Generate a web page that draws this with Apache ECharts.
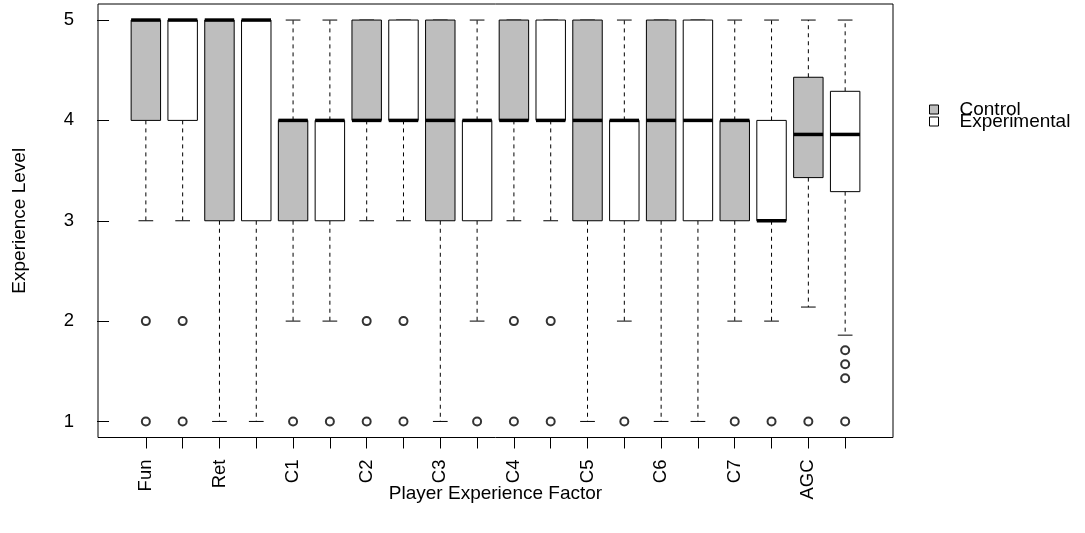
<!DOCTYPE html>
<html>
<head>
<meta charset="utf-8">
<script src="https://cdn.jsdelivr.net/npm/echarts@6/dist/echarts.min.js"></script>
<style>html,body{margin:0;padding:0;background:#fff}#c{width:1085px;height:533px}</style>
</head>
<body>
<div id="c"></div>
<script>
// ---- data ----
var factors = ['Fun', 'Ret', 'C1', 'C2', 'C3', 'C4', 'C5', 'C6', 'C7', 'AGC'];
// [lower whisker, Q1, median, Q3, upper whisker]
var controlStats = [
  [3, 4, 5, 5, 5],
  [1, 3, 5, 5, 5],
  [2, 3, 4, 4, 5],
  [3, 4, 4, 5, 5],
  [1, 3, 4, 5, 5],
  [3, 4, 4, 5, 5],
  [1, 3, 4, 5, 5],
  [1, 3, 4, 5, 5],
  [2, 3, 4, 4, 5],
  [2.14, 3.43, 3.86, 4.43, 5]
];
var experimentalStats = [
  [3, 4, 5, 5, 5],
  [1, 3, 5, 5, 5],
  [2, 3, 4, 4, 5],
  [3, 4, 4, 5, 5],
  [2, 3, 4, 4, 5],
  [3, 4, 4, 5, 5],
  [2, 3, 4, 4, 5],
  [1, 3, 4, 5, 5],
  [2, 3, 3, 4, 5],
  [1.86, 3.29, 3.86, 4.29, 5]
];
var controlOutliers = [[2, 1], [], [1], [2, 1], [], [2, 1], [], [], [1], [1]];
var experimentalOutliers = [[2, 1], [], [1], [2, 1], [1], [2, 1], [1], [], [1], [1.71, 1.57, 1.43, 1]];
var yTicks = [1, 2, 3, 4, 5];
var groupNames = ['Control', 'Experimental'];
var groupColors = ['#bebebe', '#ffffff'];

// ---- build ----
function boxData(stats, offset) {
  return stats.map(function (s, i) { return [2 * i + offset].concat(s); });
}
function outlierData(outs, offset) {
  var r = [];
  outs.forEach(function (o, i) { o.forEach(function (v) { r.push([2 * i + offset, v]); }); });
  return r;
}
var xTickValues = [];
for (var k = 1; k <= factors.length * 2; k++) xTickValues.push(k);
var xLabelValues = factors.map(function (f, i) { return 2 * i + 1; });

var FONT = '"Liberation Sans", Arial, Helvetica, sans-serif';

function renderBox(fill) {
  return function (params, api) {
    var x = api.value(0);
    var lo = api.value(1), q1 = api.value(2), med = api.value(3), q3 = api.value(4), hi = api.value(5);
    var half = 0.4, st = 0.2;
    var pLoL = api.coord([x - st, lo]), pLoR = api.coord([x + st, lo]);
    var pHiL = api.coord([x - st, hi]), pHiR = api.coord([x + st, hi]);
    var c = api.coord([x, 0])[0];
    var yLo = api.coord([x, lo])[1], yQ1 = api.coord([x, q1])[1], yMed = api.coord([x, med])[1];
    var yQ3 = api.coord([x, q3])[1], yHi = api.coord([x, hi])[1];
    var xl = api.coord([x - half, q1])[0], xr = api.coord([x + half, q1])[0];
    var children = [];
    if (yHi < yQ3) children.push({type: 'line', shape: {x1: c, y1: yQ3, x2: c, y2: yHi}, style: {stroke: '#000', lineWidth: 1, lineDash: [4, 4]}});
    if (yLo > yQ1) children.push({type: 'line', shape: {x1: c, y1: yQ1, x2: c, y2: yLo}, style: {stroke: '#000', lineWidth: 1, lineDash: [4, 4]}});
    children.push({type: 'line', shape: {x1: pHiL[0], y1: pHiL[1], x2: pHiR[0], y2: pHiR[1]}, style: {stroke: '#000', lineWidth: 1}});
    children.push({type: 'line', shape: {x1: pLoL[0], y1: pLoL[1], x2: pLoR[0], y2: pLoR[1]}, style: {stroke: '#000', lineWidth: 1}});
    children.push({type: 'rect', shape: {x: xl, y: yQ3, width: xr - xl, height: yQ1 - yQ3}, style: {fill: fill, stroke: '#000', lineWidth: 1}});
    children.push({type: 'line', shape: {x1: xl, y1: yMed, x2: xr, y2: yMed}, style: {stroke: '#000', lineWidth: 3.5, lineCap: 'butt'}});
    return {type: 'group', children: children};
  };
}

var chart = echarts.init(document.getElementById('c'), null, {renderer: 'canvas'});
chart.setOption({
  animation: false,
  backgroundColor: '#fff',
  textStyle: {fontFamily: FONT},
  grid: {left: 98, right: 192, top: 4, bottom: 95.5, show: true, borderColor: '#000', borderWidth: 1, backgroundColor: 'transparent', containLabel: false},
  legend: {
    orient: 'vertical', left: 929, top: 100, padding: 0,
    itemWidth: 9, itemHeight: 9, itemGap: -7,
    textStyle: {fontSize: 19, color: '#000', fontFamily: FONT, padding: [0, 0, 0, 16]},
    data: [
      {name: groupNames[0], icon: 'rect', itemStyle: {color: groupColors[0], borderColor: '#000', borderWidth: 1}},
      {name: groupNames[1], icon: 'rect', itemStyle: {color: groupColors[1], borderColor: '#000', borderWidth: 1}}
    ]
  },
  xAxis: {
    type: 'value', min: -0.3, max: 21.3,
    name: 'Player Experience Factor', nameLocation: 'middle', nameGap: 47, nameMoveOverlap: false,
    nameTextStyle: {fontSize: 19, color: '#000', fontFamily: FONT},
    axisLine: {show: false},
    splitLine: {show: false},
    axisTick: {show: true, length: 11, customValues: xTickValues, lineStyle: {color: '#000', width: 1}},
    axisLabel: {show: true, rotate: 90, margin: 22, fontSize: 18.5, color: '#000', fontFamily: FONT,
      customValues: xLabelValues,
      formatter: function (v) { return factors[Math.round((v - 1) / 2)] || ''; }}
  },
  yAxis: {
    type: 'value', min: 0.84, max: 5.16,
    name: 'Experience Level', nameLocation: 'middle', nameGap: 69, nameRotate: 90, nameMoveOverlap: false,
    nameTextStyle: {fontSize: 19, color: '#000', fontFamily: FONT},
    axisLine: {show: false},
    splitLine: {show: false},
    axisTick: {show: true, length: 12, customValues: yTicks, lineStyle: {color: '#000', width: 1}},
    axisLabel: {show: true, margin: 24, fontSize: 18.5, color: '#000', fontFamily: FONT, customValues: yTicks,
      formatter: function (v) { return String(v); }}
  },
  series: [
    {name: groupNames[0], type: 'custom', renderItem: renderBox(groupColors[0]), data: boxData(controlStats, 1),
     encode: {x: 0, y: [1, 2, 3, 4, 5]}, itemStyle: {color: groupColors[0]}, clip: false},
    {name: groupNames[1], type: 'custom', renderItem: renderBox(groupColors[1]), data: boxData(experimentalStats, 2),
     encode: {x: 0, y: [1, 2, 3, 4, 5]}, itemStyle: {color: groupColors[1]}, clip: false},
    {name: 'outC', type: 'scatter', data: outlierData(controlOutliers, 1), symbol: 'circle', symbolSize: 8,
     itemStyle: {color: 'transparent', borderColor: '#000', borderWidth: 2}, z: 5},
    {name: 'outE', type: 'scatter', data: outlierData(experimentalOutliers, 2), symbol: 'circle', symbolSize: 8,
     itemStyle: {color: 'transparent', borderColor: '#000', borderWidth: 2}, z: 5}
  ]
});
</script>
</body>
</html>
